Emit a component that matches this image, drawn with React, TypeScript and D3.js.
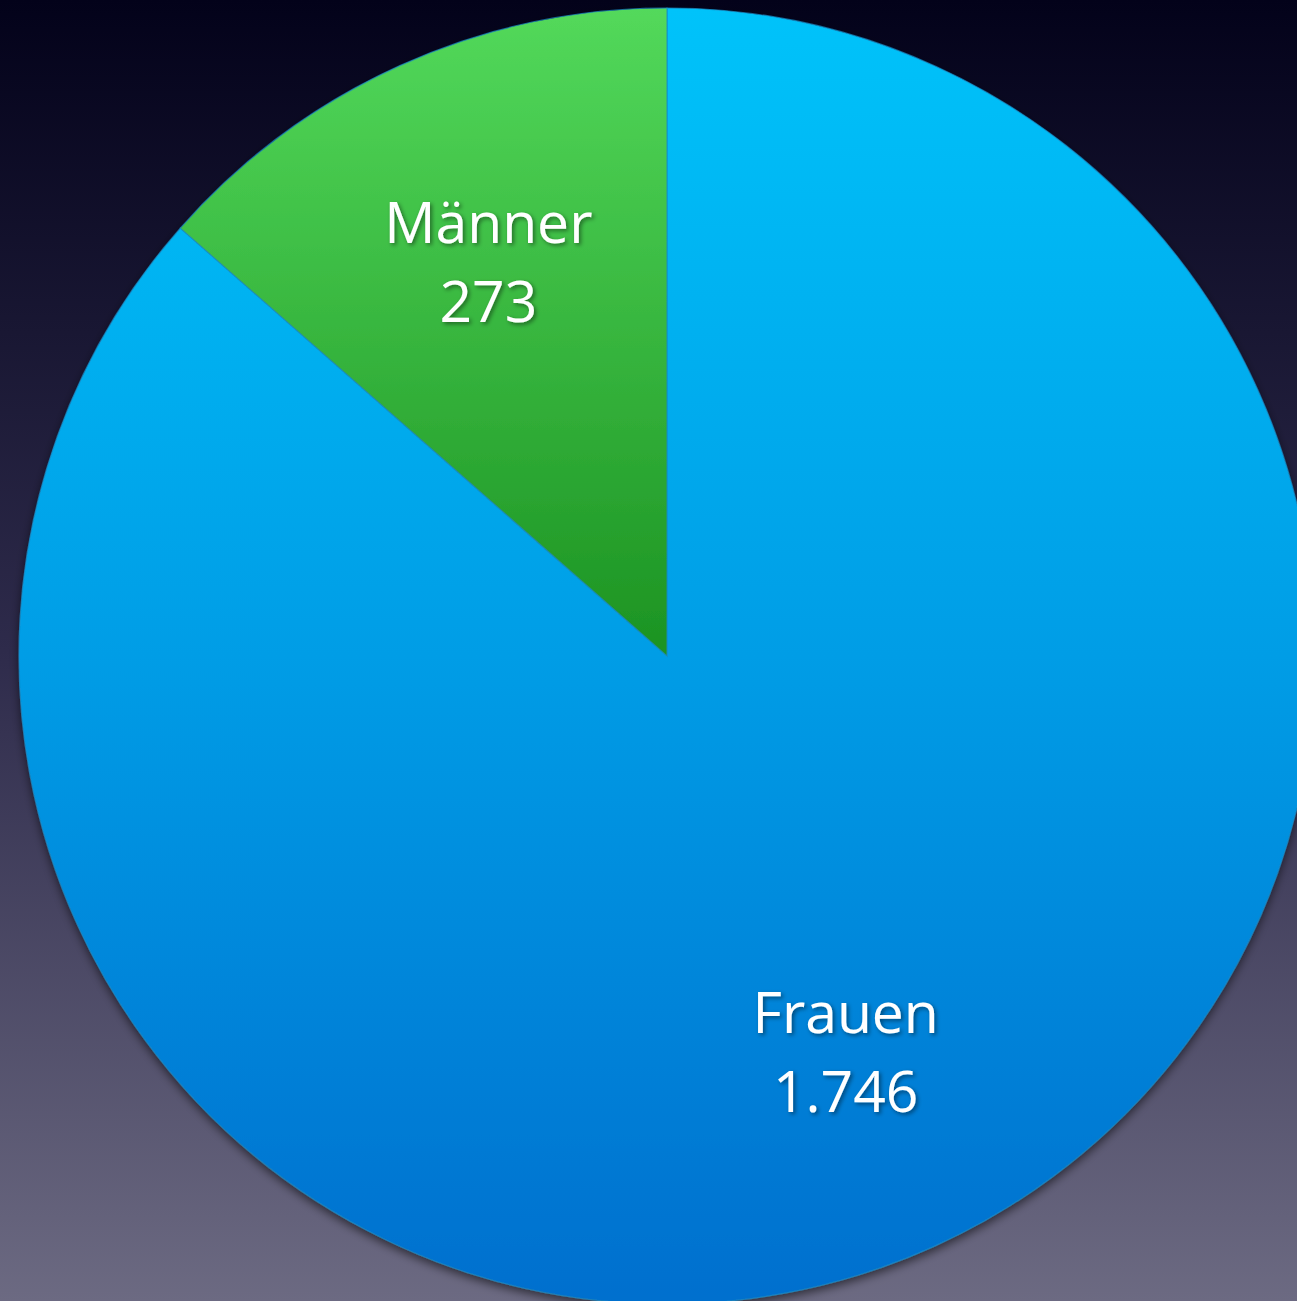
import React from "react";
import { pie, arc, PieArcDatum } from "d3";

const categories = ["Frauen", "Männer"];
const values = [1746, 273];
const valueLabels = ["1.746", "273"];

const W = 1297;
const H = 1301;
const cx = 667;
const cy = 656;
const radius = 648;

type Slice = { name: string; value: number; label: string };

const App = () => {
  const data: Slice[] = categories.map((c, i) => ({ name: c, value: values[i], label: valueLabels[i] }));

  const pieGen = pie<Slice>()
    .sort(null)
    .value((d) => d.value);
  const arcs = pieGen(data);

  const arcGen = arc<PieArcDatum<Slice>>().innerRadius(0).outerRadius(radius);
  // labels sit at about 2/3 of the radius, like the office chart did
  const labelArc = arc<PieArcDatum<Slice>>()
    .innerRadius(radius * 0.669)
    .outerRadius(radius * 0.669);

  const fills: Record<string, string> = { Frauen: "url(#gBlue)", Männer: "url(#gGreen)" };

  return (
    <svg
      width={W}
      height={H}
      style={{ position: "absolute", left: 0, top: 0, display: "block" }}
    >
      <defs>
        <linearGradient id="bg" x1="0" y1="0" x2="0" y2="1">
          <stop offset="0" stopColor="#03021a" />
          <stop offset="0.5" stopColor="#2e2b4b" />
          <stop offset="1" stopColor="#6c6a82" />
        </linearGradient>
        {/* gradients live in the translated pie space, so y is relative to the centre */}
        <linearGradient id="gBlue" gradientUnits="userSpaceOnUse" x1="0" y1={-radius} x2="0" y2={radius}>
          <stop offset="0" stopColor="#00c3fa" />
          <stop offset="0.5" stopColor="#009de6" />
          <stop offset="1" stopColor="#006fce" />
        </linearGradient>
        <linearGradient id="gGreen" gradientUnits="userSpaceOnUse" x1="0" y1={-radius} x2="0" y2={0}>
          <stop offset="0" stopColor="#53d95b" />
          <stop offset="1" stopColor="#1c9322" />
        </linearGradient>
        <filter id="pieShadow" x="-10%" y="-10%" width="120%" height="120%">
          <feDropShadow dx="0" dy="4" stdDeviation="5" floodColor="#000" floodOpacity="0.55" />
        </filter>
        <filter id="txtShadow" x="-20%" y="-20%" width="140%" height="140%">
          <feDropShadow dx="2" dy="2" stdDeviation="2" floodColor="#000" floodOpacity="0.45" />
        </filter>
      </defs>

      <rect x={0} y={0} width={W} height={H} fill="url(#bg)" />

      <g transform={`translate(${cx},${cy})`}>
        <g filter="url(#pieShadow)">
          {arcs.map((a) => (
            <path
              key={a.data.name}
              d={arcGen(a) || ""}
              fill={fills[a.data.name]}
              stroke="#1b8cc4"
              strokeOpacity={0.7}
              strokeWidth={1.2}
            />
          ))}
        </g>

        {arcs.map((a) => {
          const [lx, ly] = labelArc.centroid(a);
          return (
            <text
              key={"t" + a.data.name}
              x={lx}
              y={ly}
              textAnchor="middle"
              fill="#ffffff"
              fontFamily="'Open Sans', 'Noto Sans', sans-serif"
              fontSize={57}
              filter="url(#txtShadow)"
            >
              <tspan x={lx} dy={-18}>{a.data.name}</tspan>
              <tspan x={lx} dy={79}>{a.data.label}</tspan>
            </text>
          );
        })}
      </g>
    </svg>
  );
};

export default App;
